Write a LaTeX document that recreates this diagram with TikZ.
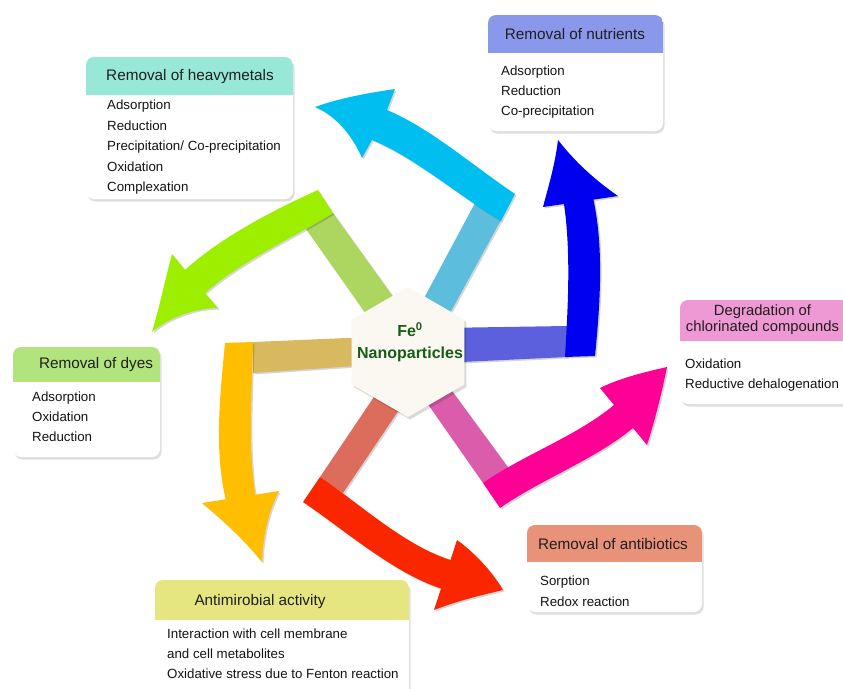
\documentclass[tikz,border=0pt]{standalone}
\usepackage{fontspec}
\setmainfont{Liberation Sans}
\definecolor{cyanB}{RGB}{0,190,240}
\definecolor{cyanP}{RGB}{92,190,220}
\definecolor{greenB}{RGB}{158,238,0}
\definecolor{greenP}{RGB}{172,214,96}
\definecolor{orangeB}{RGB}{255,190,0}
\definecolor{orangeP}{RGB}{217,185,95}
\definecolor{redB}{RGB}{250,38,0}
\definecolor{redP}{RGB}{220,108,92}
\definecolor{pinkB}{RGB}{255,0,150}
\definecolor{pinkP}{RGB}{218,92,170}
\definecolor{blueB}{RGB}{0,0,240}
\definecolor{blueP}{RGB}{92,96,220}
\definecolor{hexfill}{RGB}{251,248,242}
\definecolor{hexText}{RGB}{22,92,22}
\definecolor{hdrA}{RGB}{152,232,216}
\definecolor{hdrB}{RGB}{138,152,235}
\definecolor{hdrC}{RGB}{238,152,212}
\definecolor{hdrD}{RGB}{178,228,126}
\definecolor{hdrE}{RGB}{230,230,128}
\definecolor{hdrF}{RGB}{232,146,122}
\newcommand\shp[2]{\fill[black,opacity=0.16,shift={(1.5,1.5)}] #2; \fill[#1] #2;}
\newcommand\infobox[6]{%
  \fill[black,opacity=0.13,rounded corners=8pt] ({#1+1.5},{#2+2.5}) rectangle ({#3+1.5},{#5+2.5});
  \fill[white,rounded corners=8pt] (#1,#2) rectangle (#3,#5);
  \begin{scope}
    \clip[rounded corners=8pt] (#1,#2) rectangle (#3,#5);
    \fill[#6] (#1,#2) rectangle (#3,#4);
  \end{scope}
}
\tikzset{
  ttl/.style={font=\fontsize{15.3}{16}\selectfont, text=black!88, inner sep=0pt, align=center},
  bodytxt/.style={font=\fontsize{13.3}{16}\selectfont, text=black!92, anchor=west, inner sep=0pt, text height=9.5pt, text depth=2.5pt},
}
\begin{document}
\begin{tikzpicture}[x=1pt,y=-1pt]
\useasboundingbox (0,0) rectangle (843,688);
\clip (0,0) rectangle (843,688);
\fill[white] (0,0) rectangle (843,688);

% stems
\shp{cyanP}{(400,343) -- (426,357) -- (501,220) -- (475,203) -- cycle}
\shp{greenP}{(385,341) -- (412,323) -- (333,213) -- (306,229) -- cycle}
\shp{orangeP}{(253,342) -- (370,337) -- (370,365) -- (253,373) -- cycle}
\shp{redP}{(384,382) -- (407,398) -- (343,493) -- (320,477) -- cycle}
\shp{pinkP}{(418,390) -- (441,376) -- (510,470) -- (483,483) -- cycle}
\shp{blueP}{(440,328) -- (567,326) -- (567,357) -- (440,363) -- cycle}

% curved arrows
\shp{cyanB}{(501,221) -- (515,194) .. controls (472,165) and (430,128) .. (387,110) -- (395,89) .. controls (368,93) and (340,98) .. (315,107) .. controls (335,115) and (352,135) .. (362,158) -- (372,140) .. controls (414,157) and (459,196) .. (501,221) -- cycle}
\shp{greenB}{(333,213) -- (318,190) .. controls (278,208) and (222,236) .. (185,270) -- (172,254) .. controls (165,280) and (160,305) .. (152,332) .. controls (168,318) and (195,308) .. (218,308) -- (205,293) .. controls (240,262) and (296,236) .. (333,213) -- cycle}
\shp{orangeB}{(253,342) -- (225,343) .. controls (220,395) and (214,450) .. (225.7,499.3) -- (202,503) .. controls (225,522) and (245,541) .. (262,562) .. controls (263,535) and (269,510) .. (279,491) -- (255.3,494.7) .. controls (247.6,445) and (252,393) .. (253,342) -- cycle}
\shp{redB}{(320,477) -- (303,502) .. controls (344.5,530) and (393.5,573) .. (441,588.5) -- (434,610) .. controls (460,600) and (482,595) .. (503,590) .. controls (488,565) and (468,548) .. (457,540) -- (450.5,560) .. controls (403,544.5) and (361.5,505) .. (320,477) -- cycle}
\shp{pinkB}{(483,483) -- (500,508) .. controls (541,479.4) and (594.5,459.8) .. (633,428) -- (647,445) .. controls (655,420) and (662,392) .. (667,367) .. controls (645,372) and (620,378) .. (600,388) -- (614,405) .. controls (575.5,436.8) and (524,454.4) .. (483,483) -- cycle}
\shp{blueB}{(565,357) -- (595,356) .. controls (600,305) and (604,250) .. (593.5,199.6) -- (618,196) .. controls (595,180) and (575,162) .. (558,140) .. controls (555,165) and (548,188) .. (543,207) -- (564,204) .. controls (571,253) and (568,306) .. (565,357) -- cycle}

% hexagon
\fill[black,opacity=0.15,shift={(2,2.5)}] (408,287) -- (464.3,319.5) -- (464.3,384.5) -- (408,417) -- (351.7,384.5) -- (351.7,319.5) -- cycle;
\fill[hexfill] (408,287) -- (464.3,319.5) -- (464.3,384.5) -- (408,417) -- (351.7,384.5) -- (351.7,319.5) -- cycle;
\node[font=\bfseries\fontsize{16}{22}\selectfont, text=hexText, align=center, inner sep=0pt] (fe) at (410,342) {Fe\textsuperscript{0}\\Nanoparticles};

% boxes
\infobox{86}{57}{293}{95}{199}{hdrA}
\node[ttl] (t1) at (190,77) {Removal of heavymetals};
\foreach \t [count=\i] in {Adsorption,Reduction,Precipitation/ Co-precipitation,Oxidation,Complexation}
  \node[bodytxt] (a\i) at (107,{106+(\i-1)*20.6}) {\t};

\infobox{488}{15}{663}{53}{131}{hdrB}
\node[ttl] (t2) at (575,34) {Removal of nutrients};
\foreach \t [count=\i] in {Adsorption,Reduction,Co-precipitation}
  \node[bodytxt] (b\i) at (501,{72+(\i-1)*20}) {\t};

\infobox{680}{300}{862}{341}{404}{hdrC}
\node[ttl, font=\fontsize{14.8}{16}\selectfont] (t3) at (762.5,320) {Degradation of\\chlorinated compounds};
\foreach \t [count=\i] in {Oxidation,Reductive dehalogenation}
  \node[bodytxt] (c\i) at (685,{365+(\i-1)*20}) {\t};

\infobox{13}{347}{160}{382}{457}{hdrD}
\node[ttl] (t4) at (96,365) {Removal of dyes};
\foreach \t [count=\i] in {Adsorption,Oxidation,Reduction}
  \node[bodytxt] (d\i) at (32,{398+(\i-1)*20}) {\t};

\infobox{155}{580}{409}{620}{700}{hdrE}
\node[ttl] (t5) at (260,602) {Antimirobial activity};
\foreach \t [count=\i] in {Interaction with cell membrane,and cell metabolites,Oxidative stress due to Fenton reaction}
  \node[bodytxt] (e\i) at (167,{635+(\i-1)*20}) {\t};

\infobox{527}{525}{702}{562}{612}{hdrF}
\node[ttl] (t6) at (613,544.5) {Removal of antibiotics};
\foreach \t [count=\i] in {Sorption,Redox reaction}
  \node[bodytxt] (f\i) at (540,{582+(\i-1)*20.6}) {\t};
\end{tikzpicture}
\end{document}
